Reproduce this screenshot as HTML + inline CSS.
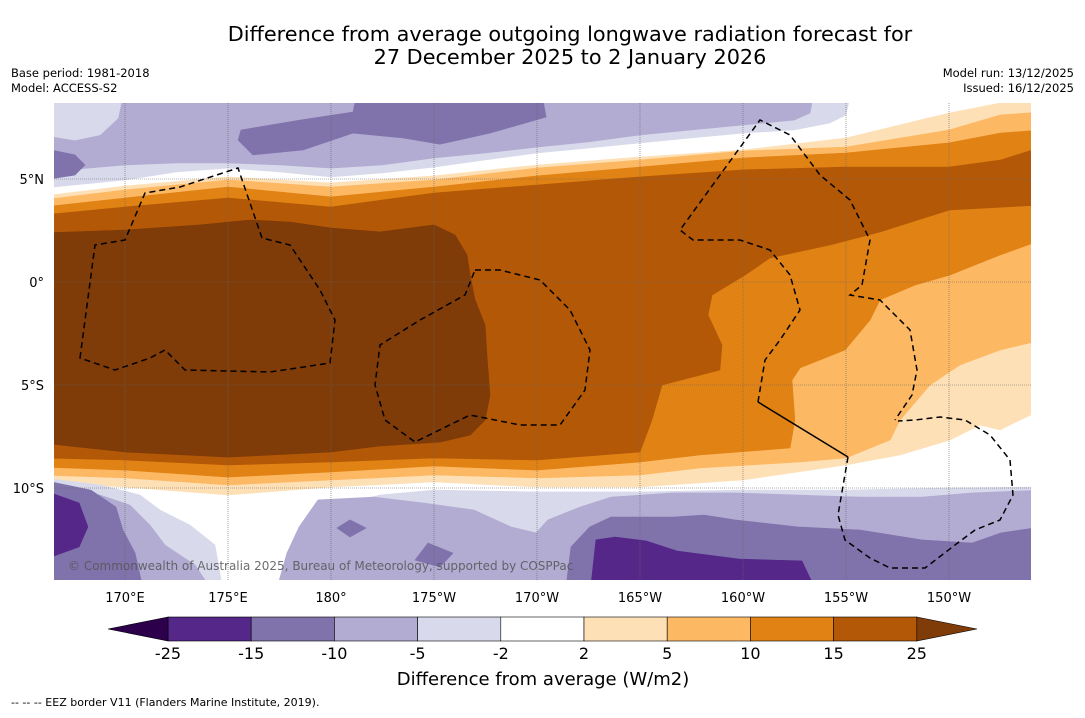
<!DOCTYPE html>
<html><head><meta charset="utf-8">
<style>
html,body{margin:0;padding:0;background:#fff;}
body{width:1085px;height:713px;overflow:hidden;font-family:"Liberation Sans","DejaVu Sans",sans-serif;}
svg text{font-family:"DejaVu Sans","Liberation Sans",sans-serif;}
</style></head>
<body>
<svg id="chart" width="1085" height="713" viewBox="0 0 1085 713" xmlns="http://www.w3.org/2000/svg">
  <defs><clipPath id="mapclip"><rect x="54" y="103" width="977" height="477"/></clipPath></defs>
  <text x="570" y="41" text-anchor="middle" font-size="20.8" fill="#000">Difference from average outgoing longwave radiation forecast for</text>
  <text x="570" y="64" text-anchor="middle" font-size="20.8" fill="#000">27 December 2025 to 2 January 2026</text>
  <text x="11" y="77" font-size="11.5">Base period: 1981-2018</text>
  <text x="11" y="92" font-size="11.5">Model: ACCESS-S2</text>
  <text x="1074" y="77" font-size="11.5" text-anchor="end">Model run: 13/12/2025</text>
  <text x="1074" y="92" font-size="11.5" text-anchor="end">Issued: 16/12/2025</text>
  <g id="map" clip-path="url(#mapclip)">
    <rect x="54" y="103" width="977" height="477" fill="#ffffff"/>
    <g id="fills"></g>
    <g id="grid"></g>
    <path d="M80,358 L95,245 L125,240 L145,193 L180,187 L238,168 L262,238 L290,245 L320,290 L335,320 L330,363 L270,372 L185,370 L165,350 L150,358 L115,370 Z" fill="none" stroke="#000" stroke-width="1.5" stroke-dasharray="6,4"/>
    <path d="M475,270 L500,270 L540,280 L570,310 L590,350 L585,390 L560,425 L520,425 L470,415 L415,442 L385,420 L375,385 L380,345 L420,320 L465,295 Z" fill="none" stroke="#000" stroke-width="1.5" stroke-dasharray="6,4"/>
    <path d="M758,402 L765,360 L780,340 L800,310 L790,275 L770,250 L740,240 L693,240 L680,230 L760,120 L790,135 L820,175 L850,200 L870,240 L862,285 L850,295 L880,300 L910,330 L917,370 L912,395 L895,420" fill="none" stroke="#000" stroke-width="1.5" stroke-dasharray="6,4"/>
    <path d="M758,402 L848,457" fill="none" stroke="#000" stroke-width="1.5"/>
    <path d="M848,457 L838,515 L845,540 L870,558 L890,568 L925,568 L955,545 L975,530 L1000,520 L1013,495 L1010,460 L990,435 L965,420 L940,417 L915,420 L898,421" fill="none" stroke="#000" stroke-width="1.5" stroke-dasharray="6,4"/>
    <text x="68" y="570" font-size="12" fill="#555" fill-opacity="0.85" font-family="Liberation Sans, sans-serif">© Commonwealth of Australia 2025, Bureau of Meteorology, supported by COSPPac</text>
  </g>
  <g id="axes"></g>
  <g id="colorbar"></g>
  <text x="543" y="685" text-anchor="middle" font-size="18">Difference from average (W/m2)</text>
  <text x="11" y="706" font-size="11">--  --  -- EEZ border V11 (Flanders Marine Institute, 2019).</text>
</svg>
<script>
// ---- data ----
const levels = [-25, -15, -10, -5, -2, 2, 5, 10, 15, 25];
const levelColors = ["#542788","#8073ac","#b2abd2","#d8daeb","#ffffff","#fee0b6","#fdb863","#e08214","#b35806"];
const underColor = "#2d004b";
const overColor = "#7f3b08";
const lonTicks = [170,175,180,185,190,195,200,205,210];
const lonTickLabels = ["170°E","175°E","180°","175°W","170°W","165°W","160°W","155°W","150°W"];
const latTicks = [5,0,-5,-10];
const latTickLabels = ["5°N","0°","5°S","10°S"];

// northern negative anomaly regions
const nm2Lon = [166,170,172.48,175,177.52,180,182.48,185,187.48,190,192.48,195,197.48,200,202.48,204.22,205,205.3,205.3,166];
const nm2Lat = [4.56,4.95,5.34,5.53,5.34,5.10,5.29,5.58,5.92,6.26,6.50,6.75,6.99,7.23,7.38,7.72,8.11,9.5,9.6,9.6];
const nm5Lon = [166,170,172.48,175,177.52,180,182.48,185,187.48,190,192.48,195,197.48,200,202.48,203.25,203.5,203.5,166];
const nm5Lat = [5.34,5.68,5.78,5.78,5.68,5.53,5.68,6.02,6.26,6.55,6.80,7.14,7.38,7.62,7.86,8.20,9.5,9.6,9.6];
const nm2bLon = [166,170,169.66,168.79,167.57,166];
const nm2bLat = [9.6,9.6,7.96,7.14,6.89,7.14];
const nm10Lon = [175.49,175.63,178.50,181.07,181.36,190.15,190.44,187.72,185.29,183.50,181.07,178.64,176.21];
const nm10Lat = [6.89,7.38,7.86,8.25,9.6,9.6,8.01,7.23,6.69,6.99,7.23,6.41,6.17];
const nm10bLon = [166,167.57,168.06,167.57,166];
const nm10bLat = [6.50,6.17,5.68,5.19,4.95];

// positive anomaly bands: north edges share longitudes
const bandNLon = [166,170,175,180,185,190,195,200,205,210,212.5,214.5];
const p2NLat = [4.17,4.66,5.10,4.81,5.15,5.68,6.07,6.41,6.99,8.20,8.69,9.6];
const p5NLat = [3.98,4.47,4.95,4.61,4.95,5.53,5.92,6.36,6.55,7.38,8.11,8.25];
const p10NLat = [3.64,4.08,4.61,4.13,4.61,5.15,5.58,6.02,6.26,6.75,7.23,7.38];
const p15NLat = [3.25,3.64,4.08,3.64,4.32,4.71,5.10,5.44,5.58,5.58,5.92,6.55];
const p2SLon = [166,170,175,180,185,190,195,200,205,207.62,210.05,211.50,212.48,213.45,214.5];
const p2SLat = [-9.76,-9.95,-10.34,-9.95,-9.71,-9.95,-9.95,-9.61,-8.88,-8.40,-7.67,-6.94,-7.18,-6.70,-6.21];
const p5SLon = [166,170,175,180,185,190,195,197.91,202.77,205,207.14,207.62,209.08,210.53,212.48,214.5];
const p5SLat = [-9.37,-9.51,-9.85,-9.61,-9.37,-9.51,-9.37,-9.03,-8.74,-8.54,-7.67,-6.70,-5.00,-4.03,-3.30,-2.82];
const p10SLon = [166,170,175,180,185,190,195,197.91,202.28,202.52,202.38,202.77,204.95,206.17,206.65,208.35,210.05,212.48,214.5];
const p10SLat = [-8.98,-9.13,-9.47,-9.22,-8.93,-9.13,-8.74,-8.40,-8.06,-6.70,-4.76,-4.17,-3.30,-1.84,-0.87,-0.15,0.34,1.31,2.04];
const p15SLon = [166,170,175,180,185,190,195,195.58,196.07,198.88,198.98,198.30,198.50,200.10,201.31,204.22,206.65,210.05,214.5];
const p15SLat = [-8.54,-8.64,-8.88,-8.74,-8.54,-8.64,-8.25,-6.70,-5.00,-4.27,-3.06,-1.60,-0.63,0.34,1.17,1.80,2.43,3.50,3.74];
const p25Lon = [166,170,173.64,176.07,178.01,180,182.38,185,186.02,186.60,186.75,186.99,187.48,187.57,187.72,187.48,186.75,185.29,182.38,180,175,170,166];
const p25Lat = [2.38,2.52,2.77,3.01,2.91,2.62,2.43,2.77,2.28,1.31,0.34,-0.87,-2.09,-3.54,-5.49,-6.70,-7.43,-7.77,-7.96,-8.25,-8.50,-8.25,-7.82];

// southern negative anomaly regions
const sm2aLon = [166,168.79,170.73,171.70,173.16,174.37,174.71,174.71,166];
const sm2aLat = [-9.51,-9.85,-10.34,-11.07,-11.80,-12.77,-14.71,-15.2,-15.2];
const sm2bLon = [178.01,178.50,179.47,180.44,182.38,185,190,195,200,205,210,214.5,214.5];
const sm2bLat = [-15.2,-12.52,-11.31,-10.83,-10.34,-10.10,-10.19,-10.19,-10.10,-10.10,-10.0,-9.95,-15.2];
const sm5aLon = [166,168.79,170.24,171.21,171.94,173.40,174.37,166];
const sm5aLat = [-10.0,-10.34,-10.83,-11.80,-12.77,-13.74,-15.2,-15.2];
const sm5bLon = [177.28,177.86,178.45,179.37,182.08,184.51,186.94,188.74,189.95,190.53,192.09,193.59,196.60,199.61,202.67,205.68,208.69,211.12,214.5,214.5];
const sm5bLat = [-15.2,-13.16,-11.89,-10.58,-10.44,-10.73,-11.07,-11.89,-12.18,-11.55,-10.92,-10.44,-10.24,-10.24,-10.34,-10.44,-10.44,-10.24,-10.10,-15.2];
const sm10aLon = [166,168.35,169.56,169.90,170.49,170.78,170.78,166];
const sm10aLat = [-9.61,-10.10,-10.92,-12.04,-13.16,-14.47,-15.2,-15.2];
const sm10bLon = [191.36,191.65,192.57,193.59,196.60,198.11,199.61,202.67,205.68,208.69,211.12,212.52,214.5,214.5];
const sm10bLat = [-15.2,-12.86,-11.89,-11.41,-11.41,-11.31,-11.55,-11.89,-12.04,-12.52,-12.67,-12.18,-11.89,-15.2];
const sm10cLon = [180.92,181.70,180.92,180.29];
const sm10cLat = [-11.55,-11.94,-12.38,-11.94];
const sm10dLon = [184.71,185.92,185.29,184.08];
const sm10dLat = [-12.67,-13.16,-13.83,-13.50];
const sm15aLon = [166,167.77,168.20,167.77,166];
const sm15aLat = [-10.10,-10.73,-11.89,-12.86,-13.50];
const sm15bLon = [192.57,192.86,193.79,195.29,196.80,199.81,202.86,203.30,203.30];
const sm15bLat = [-15.2,-12.52,-12.38,-12.57,-13.06,-13.45,-13.54,-14.47,-15.2];

// ---- axis functions ----
const xOf = lon => 125 + (lon - 170) * 20.6;
const yOf = lat => 282 - lat * 20.6;
const NS = "http://www.w3.org/2000/svg";

function polyPath(lons, lats) {
  let d = "";
  for (let i = 0; i < lons.length; i++) d += (i ? " L" : "M") + xOf(lons[i]).toFixed(1) + "," + yOf(lats[i]).toFixed(1);
  return d + " Z";
}
function bandPath(nLon, nLat, sLon, sLat) {
  const lons = nLon.concat(sLon.slice().reverse());
  const lats = nLat.concat(sLat.slice().reverse());
  return polyPath(lons, lats);
}
const fills = document.getElementById("fills");
function addFill(d, color, name) {
  const p = document.createElementNS(NS, "path");
  p.setAttribute("d", d);
  p.setAttribute("fill", color);
  p.setAttribute("stroke", color);
  p.setAttribute("stroke-width", "0.6");
  
  
  fills.appendChild(p);
}
addFill(polyPath(nm2Lon, nm2Lat), levelColors[3], "north-region-below-minus-2");
addFill(polyPath(nm5Lon, nm5Lat), levelColors[2], "north-region-below-minus-5");
addFill(polyPath(nm2bLon, nm2bLat), levelColors[3], "north-west-light-patch");
addFill(polyPath(nm10Lon, nm10Lat), levelColors[1], "north-region-below-minus-10");
addFill(polyPath(nm10bLon, nm10bLat), levelColors[1], "north-west-region-below-minus-10");
addFill(bandPath(bandNLon, p2NLat, p2SLon, p2SLat), levelColors[5], "band-above-2");
addFill(bandPath(bandNLon, p5NLat, p5SLon, p5SLat), levelColors[6], "band-above-5");
addFill(bandPath(bandNLon, p10NLat, p10SLon, p10SLat), levelColors[7], "band-above-10");
addFill(bandPath(bandNLon, p15NLat, p15SLon, p15SLat), levelColors[8], "band-above-15");
addFill(polyPath(p25Lon, p25Lat), overColor, "core-above-25");
addFill(polyPath(sm2aLon, sm2aLat), levelColors[3], "south-west-region-below-minus-2");
addFill(polyPath(sm2bLon, sm2bLat), levelColors[3], "south-region-below-minus-2");
addFill(polyPath(sm5aLon, sm5aLat), levelColors[2], "south-west-region-below-minus-5");
addFill(polyPath(sm5bLon, sm5bLat), levelColors[2], "south-region-below-minus-5");
addFill(polyPath(sm10aLon, sm10aLat), levelColors[1], "south-west-region-below-minus-10");
addFill(polyPath(sm10bLon, sm10bLat), levelColors[1], "south-east-region-below-minus-10");
addFill(polyPath(sm10cLon, sm10cLat), levelColors[1], "south-small-patch-below-minus-10");
addFill(polyPath(sm10dLon, sm10dLat), levelColors[1], "south-small-patch-2-below-minus-10");
addFill(polyPath(sm15aLon, sm15aLat), levelColors[0], "south-west-region-below-minus-15");
addFill(polyPath(sm15bLon, sm15bLat), levelColors[0], "south-east-region-below-minus-15");

// grid + tick labels
const grid = document.getElementById("grid");
const axes = document.getElementById("axes");
lonTicks.forEach((lon, i) => {
  const l = document.createElementNS(NS, "line");
  l.setAttribute("x1", xOf(lon)); l.setAttribute("x2", xOf(lon));
  l.setAttribute("y1", 103); l.setAttribute("y2", 580);
  l.setAttribute("stroke", "#666"); l.setAttribute("stroke-width", "0.6"); l.setAttribute("stroke-dasharray", "1,1");
  
  
  grid.appendChild(l);
  const t = document.createElementNS(NS, "text");
  t.setAttribute("x", xOf(lon)); t.setAttribute("y", 602);
  t.setAttribute("text-anchor", "middle"); t.setAttribute("font-size", "13");
  t.textContent = lonTickLabels[i];
  
  
  axes.appendChild(t);
});
latTicks.forEach((lat, i) => {
  const l = document.createElementNS(NS, "line");
  l.setAttribute("x1", 54); l.setAttribute("x2", 1031);
  l.setAttribute("y1", yOf(lat)); l.setAttribute("y2", yOf(lat));
  l.setAttribute("stroke", "#666"); l.setAttribute("stroke-width", "0.6"); l.setAttribute("stroke-dasharray", "1,1");
  
  
  grid.appendChild(l);
  const t = document.createElementNS(NS, "text");
  t.setAttribute("x", 44); t.setAttribute("y", yOf(lat) + 5);
  t.setAttribute("text-anchor", "end"); t.setAttribute("font-size", "13");
  t.textContent = latTickLabels[i];
  
  
  axes.appendChild(t);
});

// colorbar
const cb = document.getElementById("colorbar");
const cbX0 = 168, cbW = 83.2, cbY = 617, cbH = 24;
const cbX = i => cbX0 + i * cbW;
levelColors.forEach((c, i) => {
  const r = document.createElementNS(NS, "rect");
  r.setAttribute("x", cbX(i)); r.setAttribute("y", cbY);
  r.setAttribute("width", cbW); r.setAttribute("height", cbH);
  r.setAttribute("fill", c); r.setAttribute("stroke", "#000"); r.setAttribute("stroke-width", "0.6");
  
  
  cb.appendChild(r);
});
const lowTri = document.createElementNS(NS, "polygon");
lowTri.setAttribute("points", `${cbX0},${cbY} 108,${cbY + cbH / 2} ${cbX0},${cbY + cbH}`);
lowTri.setAttribute("fill", underColor); lowTri.setAttribute("stroke", "#000"); lowTri.setAttribute("stroke-width", "0.6");


cb.appendChild(lowTri);
const endX = cbX(levelColors.length);
const highTri = document.createElementNS(NS, "polygon");
highTri.setAttribute("points", `${endX},${cbY} 977,${cbY + cbH / 2} ${endX},${cbY + cbH}`);
highTri.setAttribute("fill", overColor); highTri.setAttribute("stroke", "#000"); highTri.setAttribute("stroke-width", "0.6");


cb.appendChild(highTri);
levels.forEach((v, i) => {
  const t = document.createElementNS(NS, "text");
  t.setAttribute("x", cbX(i)); t.setAttribute("y", 659);
  t.setAttribute("text-anchor", "middle"); t.setAttribute("font-size", "16");
  t.textContent = String(v);
  
  
  cb.appendChild(t);
});
</script>
</body></html>
